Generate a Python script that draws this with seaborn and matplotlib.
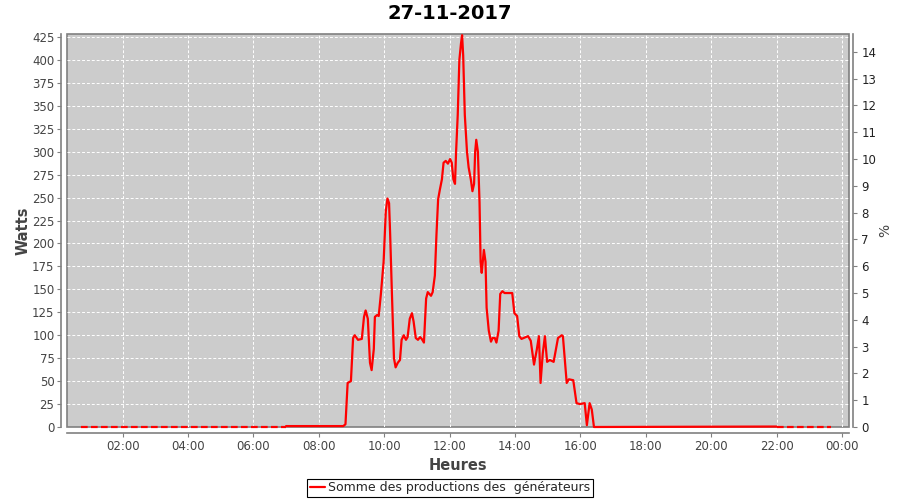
import matplotlib
matplotlib.use("Agg")
import matplotlib.pyplot as plt
import matplotlib.dates as mdates
import pandas as pd
import seaborn as sns

# production du jour (Watts)
day_times = ["07:00", "08:45", "08:49", "08:53", "08:59", "09:03", "09:06", "09:12", "09:19",
             "09:23", "09:26", "09:30", "09:34", "09:37", "09:41", "09:43", "09:47", "09:50",
             "09:54", "09:59", "10:03", "10:06", "10:09", "10:11", "10:14", "10:18", "10:21",
             "10:25", "10:29", "10:32", "10:36", "10:40", "10:43", "10:47", "10:51", "10:54",
             "10:58", "11:02", "11:06", "11:09", "11:13", "11:17", "11:20", "11:26", "11:29",
             "11:33", "11:36", "11:39", "11:42", "11:46", "11:49", "11:53", "11:57", "12:01",
             "12:04", "12:07", "12:10", "12:12", "12:15", "12:18", "12:21", "12:23", "12:25",
             "12:28", "12:32", "12:35", "12:39", "12:42", "12:45", "12:47", "12:49", "12:52",
             "12:55", "12:57", "12:59", "13:03", "13:06", "13:08", "13:12", "13:16", "13:19",
             "13:23", "13:26", "13:30", "13:33", "13:37", "13:41", "13:44", "13:48", "13:55",
             "13:59", "14:04", "14:08", "14:12", "14:24", "14:29", "14:35", "14:40", "14:44",
             "14:47", "14:51", "14:55", "14:59", "15:04", "15:11", "15:19", "15:26", "15:28",
             "15:35", "15:39", "15:47", "15:53", "15:59", "16:08", "16:12", "16:17", "16:21",
             "16:25", "22:00"]
day_watts = [1, 1, 3, 48, 50, 97, 100, 95, 96,
             120, 127, 118, 70, 62, 85, 120, 122, 121,
             145, 180, 235, 249, 244, 210, 150, 75, 65,
             70, 73, 95, 100, 95, 98, 118, 124, 115,
             97, 95, 98, 96, 92, 140, 147, 143, 147,
             165, 210, 248, 258, 270, 288, 290, 287, 292,
             288, 270, 265, 300, 340, 400, 418, 427, 405,
             340, 300, 283, 270, 257, 265, 300, 313, 300,
             245, 180, 168, 193, 180, 130, 105, 93, 97,
             97, 92, 105, 145, 148, 146, 146, 146, 146,
             124, 121, 99, 96, 99, 94, 68, 84, 99,
             48, 80, 99, 71, 73, 71, 97, 100, 99,
             48, 52, 51, 26, 25, 26, 2, 26, 19,
             0, 0.5]

# nuit : production nulle
night1_times = ["00:43", "07:00"]
night1_watts = [0, 0]
night2_times = ["22:00", "23:40"]
night2_watts = [0, 0]

x_ticks_fmt = "%H:%M"
watts_ticks = list(range(0, 426, 25))
pct_ticks = list(range(0, 15))


def to_df(times, watts):
    return pd.DataFrame({"t": pd.to_datetime(["2017-11-27 " + t for t in times]),
                         "w": watts})


sns.set_style("darkgrid", {"axes.facecolor": "#cccccc", "grid.color": "white",
                           "grid.linestyle": "--"})
plt.rcParams["font.family"] = ["DejaVu Sans"]

fig = plt.figure(figsize=(9, 5), dpi=100)
ax = fig.add_axes([67 / 900, 1 - 427 / 500, (849 - 67) / 900, (427 - 34) / 500])

sns.lineplot(data=to_df(day_times, day_watts), x="t", y="w", ax=ax, color="red",
             linewidth=1.6, label="Somme des productions des  générateurs", clip_on=False)
for tt, ww in [(night1_times, night1_watts), (night2_times, night2_watts)]:
    sns.lineplot(data=to_df(tt, ww), x="t", y="w", ax=ax, color="red", linewidth=1.6,
                 linestyle=(0, (3, 1.5)), legend=False, clip_on=False)

ax.set_xlim(pd.Timestamp("2017-11-27 00:18"), pd.Timestamp("2017-11-28 00:13"))
ax.set_ylim(0, 428.3)
ax.set_yticks(watts_ticks)
ax.xaxis.set_major_locator(mdates.HourLocator(byhour=range(0, 24, 2)))
ax.xaxis.set_major_formatter(mdates.DateFormatter(x_ticks_fmt))
ax.grid(True, color="white", linestyle=(0, (3, 2)), linewidth=0.7)

ax.patch.set_edgecolor("#808080")
ax.patch.set_linewidth(1.2)
for s in ["top", "right"]:
    ax.spines[s].set_visible(False)
for s in ["left", "bottom"]:
    ax.spines[s].set_position(("outward", 4))
    ax.spines[s].set_color("#808080")
    ax.spines[s].set_linewidth(1.2)
ax.tick_params(axis="both", left=True, bottom=True, length=3, color="#808080",
               labelsize=8.5, labelcolor="#444444", pad=2)

ax.set_xlabel("Heures", fontsize=10.5, fontweight="bold", color="#444444", labelpad=4)
ax.set_ylabel("Watts", fontsize=10.5, fontweight="bold", color="#444444", labelpad=1)

ax2 = ax.twinx()
ax2.set_ylim(0, 14.66)
ax2.set_yticks(pct_ticks)
ax2.grid(False)
for s in ["top", "left", "bottom"]:
    ax2.spines[s].set_visible(False)
ax2.spines["right"].set_position(("outward", 3))
ax2.spines["right"].set_color("#808080")
ax2.spines["right"].set_linewidth(1.2)
ax2.tick_params(axis="y", right=True, length=3, color="#808080", labelsize=8.5,
                labelcolor="#222222", pad=3)
ax2.set_ylabel("%", fontsize=10, color="#444444", labelpad=1)

ax.legend_.remove()
handles, labels = ax.get_legend_handles_labels()
leg = fig.legend(handles[:1], labels[:1], loc="lower center", bbox_to_anchor=(0.5, 0.002),
                 fontsize=9, frameon=True, fancybox=False, edgecolor="black",
                 facecolor="white", framealpha=1, handlelength=1.2, handletextpad=0.3,
                 borderpad=0.2, borderaxespad=0.2)
leg.get_frame().set_linewidth(0.8)

fig.suptitle("27-11-2017", fontsize=14, fontweight="bold", color="black", y=0.992)
fig.savefig("out.png", dpi=100, facecolor="white")
